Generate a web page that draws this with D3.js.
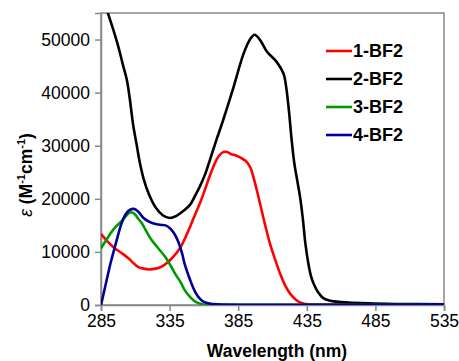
<!DOCTYPE html>
<html>
<head>
<meta charset="utf-8">
<script src="https://cdn.jsdelivr.net/npm/d3@7"></script>
<style>
  body { margin: 0; background: #fff; }
  svg { display: block; font-family: "Liberation Sans", Arial, sans-serif; }
</style>
</head>
<body>
<div id="chart"></div>
<script>
// wavelength (nm) / epsilon (M-1 cm-1)
const wl1 = [285, 290, 295, 300, 305, 309, 312, 316, 320, 325, 329, 333, 337, 340, 343, 347, 350, 354, 357, 361, 364, 368, 371, 374, 377, 380, 383, 387, 391, 394, 396, 399, 403, 408, 412, 416, 419, 423, 427, 431, 436, 450, 535];
const eps1 = [13400, 11900, 10700, 9800, 8800, 7800, 7200, 6850, 6700, 6850, 7200, 7900, 8900, 9800, 10900, 13000, 14800, 17300, 19100, 21900, 24100, 26700, 28100, 28800, 28800, 28400, 28200, 27700, 27000, 25800, 24200, 21200, 16800, 11700, 8500, 5600, 3800, 2100, 1000, 400, 150, 100, 100];

const wl2 = [285, 288, 290, 294, 298, 301, 304, 306, 308.5, 311, 313, 316, 320, 325, 330, 335, 340, 345, 350, 354, 357, 361, 364, 369, 374, 381, 389, 394, 397, 401, 406, 413, 418, 420, 422, 424, 426, 428, 430, 432, 434, 436, 438, 440, 443, 447, 452, 460, 480, 500, 535];
const eps2 = [59000, 56500, 55000, 51800, 48300, 45200, 42200, 38800, 33800, 30200, 27200, 23800, 20800, 18300, 16900, 16400, 16800, 17700, 18900, 20800, 22300, 24700, 27000, 31000, 34800, 40500, 47400, 50200, 50900, 49900, 47700, 45800, 43600, 41000, 36500, 31000, 26500, 23500, 20500, 16500, 11500, 8000, 5500, 4000, 2500, 1300, 800, 550, 300, 200, 150];

const wl3 = [285, 289, 292, 296, 300, 303, 306, 308, 310, 312, 315, 318, 322, 327, 332, 336, 339, 343, 346, 350, 354, 358, 362, 380, 535];
const eps3 = [10700, 12300, 13500, 14800, 15800, 16700, 17400, 17400, 17000, 16300, 15300, 13900, 12200, 10600, 9000, 7300, 5900, 4300, 2800, 1500, 600, 200, 50, 30, 30];

const wl4 = [285, 288, 292, 296, 300, 303, 306, 309, 312, 316, 320, 324, 328, 332, 335, 338, 341, 344, 346, 349, 351, 354, 357, 360, 364, 370, 535];
const eps4 = [0, 3400, 7900, 11800, 15400, 17100, 17900, 18100, 17600, 16400, 15700, 15300, 15100, 15000, 14500, 13600, 12100, 9800, 7700, 5400, 4000, 2300, 1200, 600, 300, 150, 150];

const seriesNames = ['1-BF2', '2-BF2', '3-BF2', '4-BF2'];
const seriesColors = ['#ff0000', '#000000', '#009900', '#000099'];
const xTicks = [285, 335, 385, 435, 485, 535];
const yTicks = [0, 10000, 20000, 30000, 40000, 50000];

const series = [[wl1, eps1], [wl2, eps2], [wl3, eps3], [wl4, eps4]].map(([w, e], i) => ({
  name: seriesNames[i],
  color: seriesColors[i],
  values: w.map((d, j) => ({ wl: d, eps: e[j] }))
}));

const W = 459, H = 361;
const margin = { top: 13, right: 15, bottom: 56, left: 101 };
const width = W - margin.left - margin.right;
const height = H - margin.top - margin.bottom;

const x = d3.scaleLinear().domain([285, 535]).range([0, width]);
const y = d3.scaleLinear().domain([0, 55000]).range([height, 0]);

const svg = d3.select('#chart').append('svg')
  .attr('width', W)
  .attr('height', H);

const g = svg.append('g')
  .attr('transform', `translate(${margin.left}, ${margin.top})`);

g.append('clipPath').attr('id', 'clip')
  .append('rect').attr('width', width).attr('height', height);

// frame
g.append('rect')
  .attr('width', width).attr('height', height)
  .attr('fill', 'none').attr('stroke', '#888').attr('stroke-width', 1.5);

const xAxis = g.append('g')
  .attr('transform', `translate(0, ${height})`)
  .call(d3.axisBottom(x).tickValues(xTicks).tickSize(6).tickPadding(4).tickFormat(d3.format('d')));
const yAxis = g.append('g')
  .call(d3.axisLeft(y).tickValues(yTicks).tickSize(6).tickPadding(5).tickFormat(d3.format('d')));

[xAxis, yAxis].forEach((a) => {
  a.select('.domain').attr('stroke', '#888').attr('stroke-width', 1.5);
  a.selectAll('.tick line').attr('stroke', '#888').attr('stroke-width', 1.5);
  a.selectAll('.tick text')
    .attr('fill', '#000')
    .style('font-size', '17.5px')
    .style('font-family', '"Liberation Sans", Arial, sans-serif');
});

const line = d3.line()
  .x((d) => x(d.wl))
  .y((d) => y(d.eps))
  .curve(d3.curveCatmullRom.alpha(0.5));

g.append('g').attr('clip-path', 'url(#clip)')
  .selectAll('path')
  .data(series)
  .join('path')
    .attr('fill', 'none')
    .attr('stroke', (d) => d.color)
    .attr('stroke-width', 2.6)
    .attr('stroke-linejoin', 'round')
    .attr('d', (d) => line(d.values));

// legend
const legend = g.append('g').attr('transform', 'translate(225, 38)');
series.forEach((s, i) => {
  const row = legend.append('g').attr('transform', `translate(0, ${i * 28})`);
  row.append('line')
    .attr('x1', 0).attr('x2', 26)
    .attr('stroke', s.color).attr('stroke-width', 2.6);
  row.append('text')
    .attr('x', 27).attr('dy', '0.35em')
    .style('font-size', '18px').style('font-weight', 'bold')
    .text(s.name);
});

// axis titles
svg.append('text')
  .attr('x', 277).attr('y', 357)
  .attr('text-anchor', 'middle')
  .style('font-size', '17.5px').style('font-weight', 'bold')
  .text('Wavelength (nm)');

const yt = svg.append('text')
  .attr('transform', 'translate(32, 175) rotate(-90)')
  .attr('text-anchor', 'middle')
  .style('font-size', '17.5px').style('font-weight', 'bold');
yt.append('tspan').style('font-style', 'italic').style('font-weight', 'normal').text('ε');
yt.append('tspan').text(' (M');
yt.append('tspan').attr('dy', -7).style('font-size', '11px').text('-1');
yt.append('tspan').attr('dy', 7).text('cm');
yt.append('tspan').attr('dy', -7).style('font-size', '11px').text('-1');
yt.append('tspan').attr('dy', 7).text(')');
</script>
</body>
</html>
